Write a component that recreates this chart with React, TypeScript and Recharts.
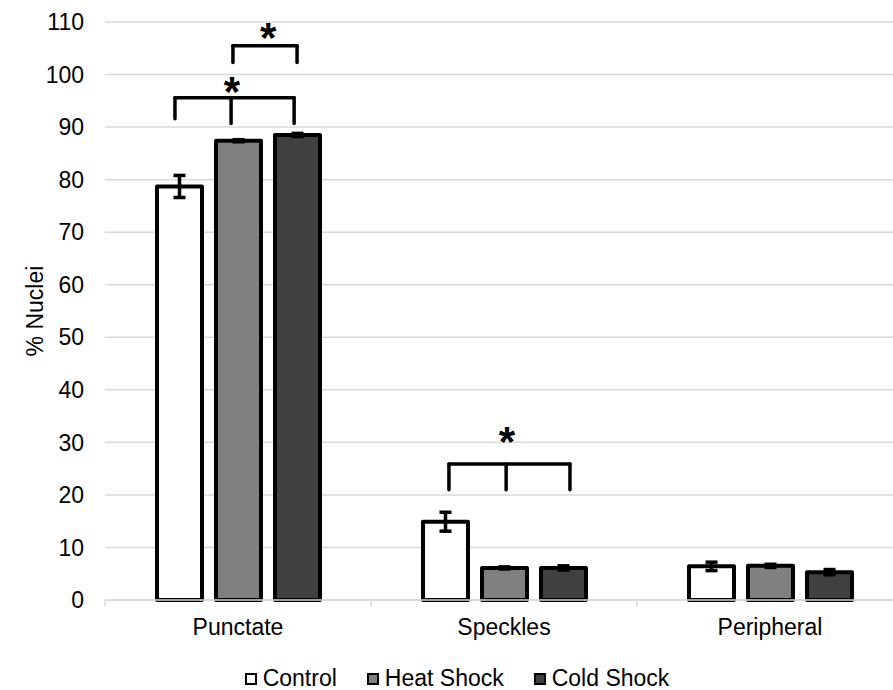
import {
  BarChart,
  Bar,
  XAxis,
  YAxis,
  CartesianGrid,
  ErrorBar,
  Legend,
  ReferenceLine,
  ReferenceDot,
} from "recharts";

const categories = ["Punctate", "Speckles", "Peripheral"];

const control = [78.7, 14.9, 6.4];
const heatShock = [87.4, 6.1, 6.5];
const coldShock = [88.5, 6.1, 5.3];

const controlErr = [2.1, 1.8, 0.8];
const heatShockErr = [0.2, 0.2, 0.3];
const coldShockErr = [0.3, 0.4, 0.5];

const yTicks = [0, 10, 20, 30, 40, 50, 60, 70, 80, 90, 100, 110];

// significance brackets, x in category units (0..3), y in % nuclei
const brackets = [
  { xs: [0.263, 0.474, 0.711], top: 95.6, feet: [91.6, 90.7, 90.7] },
  { xs: [0.481, 0.722], top: 105.5, feet: [102.3, 102.3] },
  { xs: [1.293, 1.508, 1.748], top: 25.9, feet: [21.0, 21.0, 21.0] },
];

const stars = [
  { x: 0.477, y: 98.6 },
  { x: 0.613, y: 108.9 },
  { x: 1.511, y: 32.1 },
];

const series = [
  { key: "control", name: "Control", fill: "#ffffff" },
  { key: "heat", name: "Heat Shock", fill: "#808080" },
  { key: "cold", name: "Cold Shock", fill: "#404040" },
];

const n = categories.length;

const rows = categories.map((cat, i) => ({
  cat,
  // spreads 0..n over the rows so the helper number axis spans whole categories
  span: (i * n) / (n - 1),
  control: control[i],
  heat: heatShock[i],
  cold: coldShock[i],
  controlErr: controlErr[i],
  heatErr: heatShockErr[i],
  coldErr: coldShockErr[i],
}));

const FONT = "'Liberation Sans', Arial, sans-serif";

function BottomTick(props: any) {
  const { x, y, payload } = props;
  const v = payload.value;
  if (Number.isInteger(v)) {
    return <line x1={x} x2={x} y1={y} y2={y + 6} stroke="#d9d9d9" strokeWidth={1.5} />;
  }
  return (
    <text x={x} y={y + 35} textAnchor="middle" fill="#000" fontSize={23} fontFamily={FONT}>
      {categories[Math.floor(v)]}
    </text>
  );
}

function LegendBox() {
  return (
    <div
      style={{
        display: "flex",
        justifyContent: "center",
        alignItems: "center",
        fontFamily: FONT,
        fontSize: 23,
        color: "#000",
        gap: 30,
      }}
    >
      {series.map((s) => (
        <div key={s.key} style={{ display: "flex", alignItems: "center" }}>
          <span
            style={{
              display: "inline-block",
              width: 8,
              height: 8,
              border: "2.5px solid #000",
              background: s.fill,
              marginRight: 6,
            }}
          />
          <span>{s.name}</span>
        </div>
      ))}
    </div>
  );
}

export default function App() {
  return (
    <div
      style={{
        position: "fixed",
        top: 0,
        left: 0,
        width: 893,
        height: 690,
        overflow: "hidden",
        background: "#fff",
      }}
    >
      <BarChart
        width={910}
        height={690}
        data={rows}
        margin={{ top: 22, right: 7, left: 0, bottom: 0 }}
        barSize={45}
        barGap={14}
      >
        <CartesianGrid xAxisId="num" vertical={false} stroke="#d9d9d9" strokeWidth={1.5} />
        <XAxis xAxisId="cat" dataKey="cat" hide height={0} />
        <XAxis
          xAxisId="num"
          dataKey="span"
          type="number"
          domain={[0, n]}
          allowDataOverflow
          ticks={[0, 0.5, 1, 1.5, 2, 2.5, 3]}
          interval={0}
          allowDecimals
          height={90}
          axisLine={{ stroke: "#d9d9d9", strokeWidth: 1.5 }}
          tickLine={false}
          tickSize={0}
          tickMargin={0}
          tick={<BottomTick />}
        />
        <YAxis
          domain={[0, 110]}
          ticks={yTicks}
          interval={0}
          width={105}
          axisLine={false}
          tickLine={false}
          tickSize={0}
          tickMargin={21}
          tick={{ fill: "#000", fontSize: 23, fontFamily: FONT }}
          label={{
            value: "% Nuclei",
            angle: -90,
            position: "center",
            dx: -18,
            style: { fill: "#000", fontSize: 23, fontFamily: FONT },
          }}
        />
        <Legend
          verticalAlign="middle"
          align="center"
          wrapperStyle={{ top: 665, left: 0, width: 914, height: 26 }}
          content={<LegendBox />}
        />
        {series.map((s) => (
          <Bar
            key={s.key}
            xAxisId="cat"
            dataKey={s.key}
            name={s.name}
            fill={s.fill}
            stroke="#000"
            strokeWidth={4}
            strokeLinejoin="round"
            isAnimationActive={false}
          >
            <ErrorBar
              dataKey={s.key + "Err"}
              direction="y"
              width={6}
              stroke="#000"
              strokeWidth={3.5}
              isAnimationActive={false}
            />
          </Bar>
        ))}
        {brackets.map((b, bi) => [
          <ReferenceLine
            key={`h${bi}`}
            xAxisId="num"
            segment={[
              { x: b.xs[0], y: b.top },
              { x: b.xs[b.xs.length - 1], y: b.top },
            ]}
            stroke="#000"
            strokeWidth={3.5}
            strokeLinecap="round"
          />,
          ...b.xs.map((x, li) => (
            <ReferenceLine
              key={`l${bi}-${li}`}
              xAxisId="num"
              segment={[
                { x, y: b.feet[li] },
                { x, y: b.top },
              ]}
              stroke="#000"
              strokeWidth={3.5}
              strokeLinecap="round"
            />
          )),
        ])}
        {stars.map((s, i) => (
          <ReferenceDot
            key={`s${i}`}
            xAxisId="num"
            x={s.x}
            y={s.y}
            r={0}
            shape={(p: any) => (
              <text
                x={p.cx}
                y={p.cy}
                dy="0.58em"
                textAnchor="middle"
                fontSize={42}
                fontWeight="bold"
                fontFamily={FONT}
                fill="#000"
              >
                *
              </text>
            )}
          />
        ))}
      </BarChart>
    </div>
  );
}
